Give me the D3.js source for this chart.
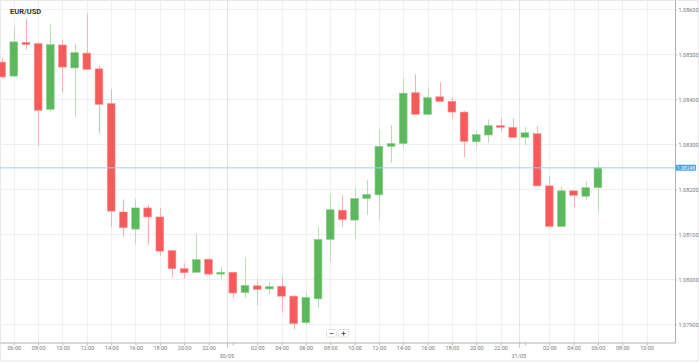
<!DOCTYPE html>
<html>
<head>
<meta charset="utf-8">
<script src="https://cdn.jsdelivr.net/npm/d3@7"></script>
<style>
  body { margin: 0; background: #fff; }
  svg { display: block; font-family: Roboto, "Noto Sans", sans-serif; }
  .tick-label { font-size: 5.5px; fill: #7a7a7a; }
</style>
</head>
<body>
<div class="chart"></div>
<script>
// hourly EUR/USD candles, first one is 29/05 05:00
var firstCandle = new Date(2023, 4, 29, 5, 0);
var lastTick = new Date(2023, 4, 31, 10, 0);
var openPrices = [1.08483, 1.08452, 1.08527, 1.08524, 1.08378, 1.08521, 1.08470, 1.08503, 1.08468, 1.08391,
  1.08150, 1.08112, 1.08159, 1.08139, 1.08064, 1.08024, 1.08016, 1.08045, 1.08012, 1.08016,
  1.07971, 1.07986, 1.07979, 1.07985, 1.07963, 1.07904, 1.07957, 1.08089, 1.08154, 1.08132,
  1.08180, 1.08188, 1.08296, 1.08302, 1.08415, 1.08367, 1.08406, 1.08396, 1.08372, 1.08306,
  1.08321, 1.08342, 1.08338, 1.08316, 1.08324, 1.08208, 1.08118, 1.08197, 1.08185, 1.08204];
var highPrices = [1.08493, 1.08561, 1.08580, 1.08526, 1.08567, 1.08532, 1.08524, 1.08591, 1.08476, 1.08423,
  1.08178, 1.08179, 1.08166, 1.08159, 1.08066, 1.08036, 1.08102, 1.08048, 1.08028, 1.08017,
  1.08050, 1.08001, 1.07993, 1.08007, 1.07965, 1.07971, 1.08118, 1.08191, 1.08187, 1.08204,
  1.08222, 1.08334, 1.08343, 1.08447, 1.08456, 1.08427, 1.08438, 1.08404, 1.08375, 1.08330,
  1.08356, 1.08358, 1.08358, 1.08339, 1.08341, 1.08230, 1.08206, 1.08198, 1.08218, 1.08260];
var lowPrices = [1.08446, 1.08450, 1.08511, 1.08296, 1.08373, 1.08416, 1.08360, 1.08465, 1.08324, 1.08117,
  1.08095, 1.08078, 1.08077, 1.08053, 1.08004, 1.08002, 1.08014, 1.08008, 1.08002, 1.07959,
  1.07959, 1.07943, 1.07967, 1.07926, 1.07889, 1.07899, 1.07936, 1.08039, 1.08118, 1.08090,
  1.08144, 1.08134, 1.08259, 1.08293, 1.08366, 1.08364, 1.08395, 1.08358, 1.08272, 1.08295,
  1.08304, 1.08328, 1.08315, 1.08298, 1.08207, 1.08117, 1.08116, 1.08161, 1.08176, 1.08150];
var closePrices = [1.08450, 1.08528, 1.08522, 1.08376, 1.08522, 1.08472, 1.08504, 1.08467, 1.08389, 1.08152,
  1.08115, 1.08159, 1.08139, 1.08063, 1.08024, 1.08015, 1.08044, 1.08012, 1.08016, 1.07970,
  1.07987, 1.07978, 1.07984, 1.07963, 1.07902, 1.07960, 1.08089, 1.08155, 1.08133, 1.08180,
  1.08189, 1.08296, 1.08302, 1.08414, 1.08367, 1.08404, 1.08396, 1.08372, 1.08307, 1.08322,
  1.08342, 1.08338, 1.08316, 1.08326, 1.08208, 1.08118, 1.08197, 1.08187, 1.08204, 1.08248];
var currentPrice = 1.08248;
var priceTicks = [1.079, 1.080, 1.081, 1.082, 1.083, 1.084, 1.085, 1.086];

var svgWidth = 699;
var svgHeight = 362;
var plotRight = 675;
var plotBottom = 342.5;

var upColor = '#5cb85c';
var downColor = '#f75a5a';

var candles = openPrices.map(function(o, i) {
  return {
    time: d3.timeHour.offset(firstCandle, i),
    open: o, high: highPrices[i], low: lowPrices[i], close: closePrices[i]
  };
});

var svg = d3.select('.chart').append('svg')
  .attr('width', svgWidth)
  .attr('height', svgHeight);

// outer frame
svg.append('rect')
  .attr('x', 0.5).attr('y', 0.5)
  .attr('width', svgWidth - 1.5).attr('height', svgHeight - 1.5)
  .attr('fill', '#fff')
  .attr('stroke', '#e8e8e8');

// time scale, about 12.2px per hour
var xScale = d3.scaleTime()
  .domain([new Date(2023, 4, 29, 4, 52), new Date(2023, 4, 31, 12, 20)])
  .range([0, plotRight]);

var yScale = d3.scaleLinear()
  .domain([1.07860, 1.08621])
  .range([plotBottom, 0]);

var hourWidth = xScale(d3.timeHour.offset(firstCandle, 1)) - xScale(firstCandle);
var bodyWidth = hourWidth * 0.64;

var tickTimes = d3.timeHour.every(2).range(xScale.domain()[0], d3.timeHour.offset(lastTick, 1));
var dayStarts = d3.timeDay.range(xScale.domain()[0], xScale.domain()[1]);

// grid
svg.append('g')
  .selectAll('line')
  .data(priceTicks)
  .enter()
  .append('line')
  .attr('x1', 0).attr('x2', plotRight)
  .attr('y1', function(d) { return Math.round(yScale(d)) + 0.5; })
  .attr('y2', function(d) { return Math.round(yScale(d)) + 0.5; })
  .attr('stroke', '#f0f0f0');

svg.append('g')
  .selectAll('line')
  .data(tickTimes.filter(function(d) { return d.getHours() !== 0; }))
  .enter()
  .append('line')
  .attr('x1', function(d) { return Math.round(xScale(d)) + 0.5; })
  .attr('x2', function(d) { return Math.round(xScale(d)) + 0.5; })
  .attr('y1', 0).attr('y2', plotBottom)
  .attr('stroke', '#f0f0f0');

// day separators sit between the 23:00 and 00:00 candles
svg.append('g')
  .selectAll('line')
  .data(dayStarts)
  .enter()
  .append('line')
  .attr('x1', function(d) { return Math.round(xScale(d) - hourWidth / 2) + 0.5; })
  .attr('x2', function(d) { return Math.round(xScale(d) - hourWidth / 2) + 0.5; })
  .attr('y1', 0).attr('y2', plotBottom)
  .attr('stroke', '#e4e4e4');

svg.append('g')
  .selectAll('line')
  .data(dayStarts)
  .enter()
  .append('line')
  .attr('x1', function(d) { return Math.round(xScale(d) - hourWidth / 2) + 0.5; })
  .attr('x2', function(d) { return Math.round(xScale(d) - hourWidth / 2) + 0.5; })
  .attr('y1', plotBottom).attr('y2', plotBottom + 5)
  .attr('stroke', '#999')
  .attr('stroke-dasharray', '1,1');

// candles
var candleGroup = svg.append('g');

candleGroup.selectAll('.wick')
  .data(candles)
  .enter()
  .append('line')
  .attr('class', 'wick')
  .attr('x1', function(d) { return Math.round(xScale(d.time)) + 0.5; })
  .attr('x2', function(d) { return Math.round(xScale(d.time)) + 0.5; })
  .attr('y1', function(d) { return yScale(d.high); })
  .attr('y2', function(d) { return yScale(d.low); })
  .attr('stroke', function(d) { return d.close >= d.open ? '#b9dfb4' : '#fbb0b0'; })
  .attr('stroke-width', 1);

candleGroup.selectAll('.body')
  .data(candles)
  .enter()
  .append('rect')
  .attr('class', 'body')
  .attr('x', function(d) { return xScale(d.time) - bodyWidth / 2; })
  .attr('y', function(d) { return yScale(Math.max(d.open, d.close)); })
  .attr('width', bodyWidth)
  .attr('height', function(d) {
    return Math.max(1.5, Math.abs(yScale(d.open) - yScale(d.close)));
  })
  .attr('fill', function(d) { return d.close >= d.open ? upColor : downColor; })
  .attr('stroke', function(d) { return d.close >= d.open ? '#8fcf8a' : '#fb9393'; })
  .attr('stroke-width', 0.6);

// current price line
svg.append('line')
  .attr('x1', 0).attr('x2', plotRight)
  .attr('y1', yScale(currentPrice)).attr('y2', yScale(currentPrice))
  .attr('stroke', '#9fcff5')
  .attr('stroke-width', 1);

// x axis
var xAxis = d3.axisBottom(xScale)
  .tickValues(tickTimes)
  .tickSize(3)
  .tickSizeOuter(0)
  .tickFormat(function(d) { return d.getHours() === 0 ? '' : d3.timeFormat('%H:%M')(d); });

var xAxisGroup = svg.append('g')
  .attr('transform', 'translate(0,' + plotBottom + ')')
  .call(xAxis);
xAxisGroup.select('.domain').attr('stroke', '#b0b0b0');
xAxisGroup.selectAll('.tick line').attr('stroke', '#bbb');
xAxisGroup.selectAll('.tick text')
  .attr('class', 'tick-label')
  .attr('fill', '#7a7a7a')
  .attr('y', 4);
xAxisGroup.attr('font-size', null).attr('font-family', null);

// date labels under the separators
svg.append('g')
  .selectAll('text')
  .data(dayStarts)
  .enter()
  .append('text')
  .attr('class', 'tick-label')
  .attr('x', function(d) { return xScale(d) - hourWidth / 2; })
  .attr('y', 357.5)
  .style('text-anchor', 'middle')
  .text(function(d) { return d3.timeFormat('%d/%m')(d); });

// y axis on the right
var yAxis = d3.axisRight(yScale)
  .tickValues(priceTicks)
  .tickSize(2)
  .tickSizeOuter(0)
  .tickFormat(d3.format('.5f'));

var yAxisGroup = svg.append('g')
  .attr('transform', 'translate(' + plotRight + ',0)')
  .call(yAxis);
yAxisGroup.select('.domain').attr('stroke', '#b0b0b0');
yAxisGroup.selectAll('.tick line').attr('stroke', '#bbb');
yAxisGroup.selectAll('.tick text')
  .attr('class', 'tick-label')
  .attr('fill', '#7a7a7a')
  .attr('x', 3.5);
yAxisGroup.attr('font-size', null).attr('font-family', null);

// current price tag
svg.append('rect')
  .attr('x', plotRight + 1)
  .attr('y', yScale(currentPrice) - 3)
  .attr('width', 20)
  .attr('height', 6)
  .attr('rx', 1)
  .attr('fill', '#3c9ff0');

svg.append('text')
  .attr('x', plotRight + 11)
  .attr('y', yScale(currentPrice))
  .attr('dy', '0.35em')
  .style('text-anchor', 'middle')
  .style('font-size', '5px')
  .attr('fill', '#fff')
  .text(d3.format('.5f')(currentPrice));

// title
svg.append('text')
  .attr('x', 10)
  .attr('y', 14)
  .style('font-size', '7.5px')
  .style('font-weight', 'bold')
  .attr('fill', '#333')
  .text('EUR/USD');

// zoom buttons
var buttons = svg.append('g').attr('transform', 'translate(326,329)');
['\u2212', '+'].forEach(function(sym, i) {
  buttons.append('rect')
    .attr('x', i * 12 + 0.5).attr('y', 0.5)
    .attr('width', 10).attr('height', 7.5)
    .attr('rx', 1)
    .attr('fill', '#fff')
    .attr('stroke', '#e2e2e2');
  buttons.append('text')
    .attr('x', i * 12 + 5.5).attr('y', 4.5)
    .attr('dy', '0.35em')
    .style('text-anchor', 'middle')
    .style('font-size', '8px')
    .style('font-weight', 'bold')
    .attr('fill', '#555')
    .text(sym);
});
</script>
</body>
</html>
